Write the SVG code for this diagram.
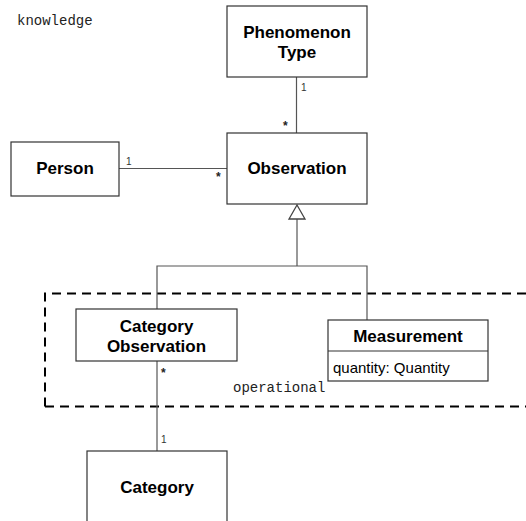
<svg xmlns="http://www.w3.org/2000/svg" width="526" height="521" viewBox="0 0 526 521">
  <style>
    .box { fill: #fff; stroke: #333; stroke-width: 1.2; }
    .title { font-family: "Liberation Sans", Arial, sans-serif; font-weight: bold; font-size: 17px; fill: #000; text-anchor: middle; }
    .attr { font-family: "Liberation Sans", Arial, sans-serif; font-size: 15px; fill: #000; }
    .mult { font-family: "Liberation Sans", Arial, sans-serif; font-size: 10px; fill: #333; }
    .star { font-family: "Liberation Sans", Arial, sans-serif; font-size: 12px; font-weight: bold; fill: #222; }
    .pkg { font-family: "Liberation Mono", "Courier New", monospace; font-size: 14px; fill: #222; }
    .conn { fill: none; stroke: #555; stroke-width: 1.2; }
  </style>
  <rect width="526" height="521" fill="#fff"/>

  <!-- package labels -->
  <text class="pkg" x="17" y="25">knowledge</text>

  <!-- operational package boundary -->
  <path d="M 45 406.5 L 45 293.5 L 530 293.5 M 45 406.5 L 530 406.5" fill="none" stroke="#000" stroke-width="2" stroke-dasharray="9 6"/>
  <text class="pkg" x="233" y="392">operational</text>

  <!-- connectors -->
  <g id="connectors">
    <line class="conn" x1="296.5" y1="77" x2="296.5" y2="133"/>
    <line class="conn" x1="119" y1="168.5" x2="227" y2="168.5"/>
    <line class="conn" x1="297" y1="219" x2="297" y2="266"/>
    <polyline class="conn" points="157,309 157,266 367,266 367,320"/>
    <polygon points="297,205 289,219 305,219" fill="#fff" stroke="#444" stroke-width="1.3"/>
    <line class="conn" x1="157" y1="361" x2="157" y2="451"/>
    <text class="mult" x="301" y="91">1</text>
    <text class="star" x="283" y="130">*</text>
    <text class="mult" x="126" y="165">1</text>
    <text class="star" x="216" y="181">*</text>
    <text class="star" x="161" y="377">*</text>
    <text class="mult" x="161" y="443">1</text>
  </g>

  <g id="phenomenon-type">
    <rect class="box" x="227" y="6" width="140" height="71"/>
    <text class="title" x="297" y="38">Phenomenon</text>
    <text class="title" x="297" y="58">Type</text>
  </g>

  <g id="person">
    <rect class="box" x="11" y="142" width="108" height="54"/>
    <text class="title" x="65" y="174">Person</text>
  </g>

  <g id="observation">
    <rect class="box" x="227" y="133" width="140" height="71"/>
    <text class="title" x="297" y="174">Observation</text>
  </g>

  <g id="category-observation">
    <rect class="box" x="76" y="309" width="161" height="52"/>
    <text class="title" x="156.5" y="332">Category</text>
    <text class="title" x="156.5" y="352">Observation</text>
  </g>

  <g id="measurement">
    <rect class="box" x="328" y="320" width="160" height="61"/>
    <line x1="328" y1="351" x2="488" y2="351" stroke="#333" stroke-width="1.2"/>
    <text class="title" x="408" y="342">Measurement</text>
    <text class="attr" x="333" y="373">quantity: Quantity</text>
  </g>

  <g id="category">
    <rect class="box" x="87" y="451" width="140" height="80"/>
    <text class="title" x="157" y="493">Category</text>
  </g>
</svg>
